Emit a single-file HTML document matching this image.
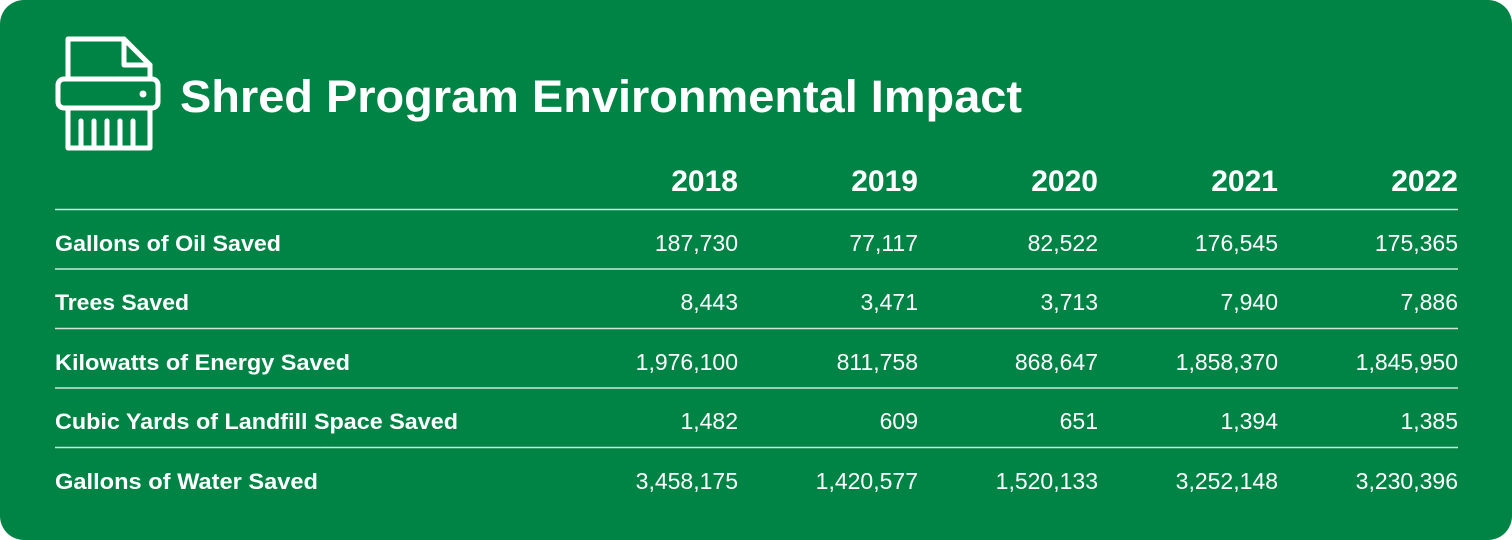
<!DOCTYPE html>
<html><head><meta charset="utf-8"><style>
html,body{margin:0;padding:0;background:#fff;width:1512px;height:540px;overflow:hidden}
svg{display:block}
text{font-family:"Liberation Sans",sans-serif;fill:#fff}
</style></head><body>
<svg width="1512" height="540" viewBox="0 0 1512 540">
<rect x="0" y="0" width="1512" height="540" rx="24" fill="#008445"/>
<g fill="none" stroke="#fff" stroke-width="5" stroke-linejoin="round" stroke-linecap="round">
<path d="M68 78 V39 H124 L150 65 V78"/>
<path d="M124 39 V65 H150"/>
<rect x="58" y="79" width="100" height="29" rx="6"/>
<path d="M68 108 V148 H150 V108"/>
<path d="M81 121 V146 M94 121 V146 M107 121 V146 M120 121 V146 M133 121 V146"/>
</g>
<circle cx="143" cy="94" r="3.5" fill="#fff"/>
<text x="180" y="112" font-size="45" font-weight="bold" textLength="842" lengthAdjust="spacingAndGlyphs">Shred Program Environmental Impact</text>
<g font-size="30" font-weight="bold" text-anchor="end">
<text x="738" y="191">2018</text><text x="918" y="191">2019</text><text x="1098" y="191">2020</text><text x="1278" y="191">2021</text><text x="1458" y="191">2022</text>
</g>
<g stroke="#cfe6d8" stroke-width="1.5">
<line x1="55" y1="209.5" x2="1458" y2="209.5"/>
<line x1="55" y1="269" x2="1458" y2="269"/>
<line x1="55" y1="328.5" x2="1458" y2="328.5"/>
<line x1="55" y1="388" x2="1458" y2="388"/>
<line x1="55" y1="447.5" x2="1458" y2="447.5"/>
</g>
<g font-size="22" font-weight="bold">
<text x="55" y="251" textLength="226" lengthAdjust="spacingAndGlyphs">Gallons of Oil Saved</text>
<text x="55" y="310" textLength="134" lengthAdjust="spacingAndGlyphs">Trees Saved</text>
<text x="55" y="370" textLength="295" lengthAdjust="spacingAndGlyphs">Kilowatts of Energy Saved</text>
<text x="55" y="429" textLength="403" lengthAdjust="spacingAndGlyphs">Cubic Yards of Landfill Space Saved</text>
<text x="55" y="489" textLength="263" lengthAdjust="spacingAndGlyphs">Gallons of Water Saved</text>
</g>
<g font-size="23" text-anchor="end">
<text x="738" y="251">187,730</text><text x="918" y="251">77,117</text><text x="1098" y="251">82,522</text><text x="1278" y="251">176,545</text><text x="1458" y="251">175,365</text>
<text x="738" y="310">8,443</text><text x="918" y="310">3,471</text><text x="1098" y="310">3,713</text><text x="1278" y="310">7,940</text><text x="1458" y="310">7,886</text>
<text x="738" y="370">1,976,100</text><text x="918" y="370">811,758</text><text x="1098" y="370">868,647</text><text x="1278" y="370">1,858,370</text><text x="1458" y="370">1,845,950</text>
<text x="738" y="429">1,482</text><text x="918" y="429">609</text><text x="1098" y="429">651</text><text x="1278" y="429">1,394</text><text x="1458" y="429">1,385</text>
<text x="738" y="489">3,458,175</text><text x="918" y="489">1,420,577</text><text x="1098" y="489">1,520,133</text><text x="1278" y="489">3,252,148</text><text x="1458" y="489">3,230,396</text>
</g>
</svg>
</body></html>
